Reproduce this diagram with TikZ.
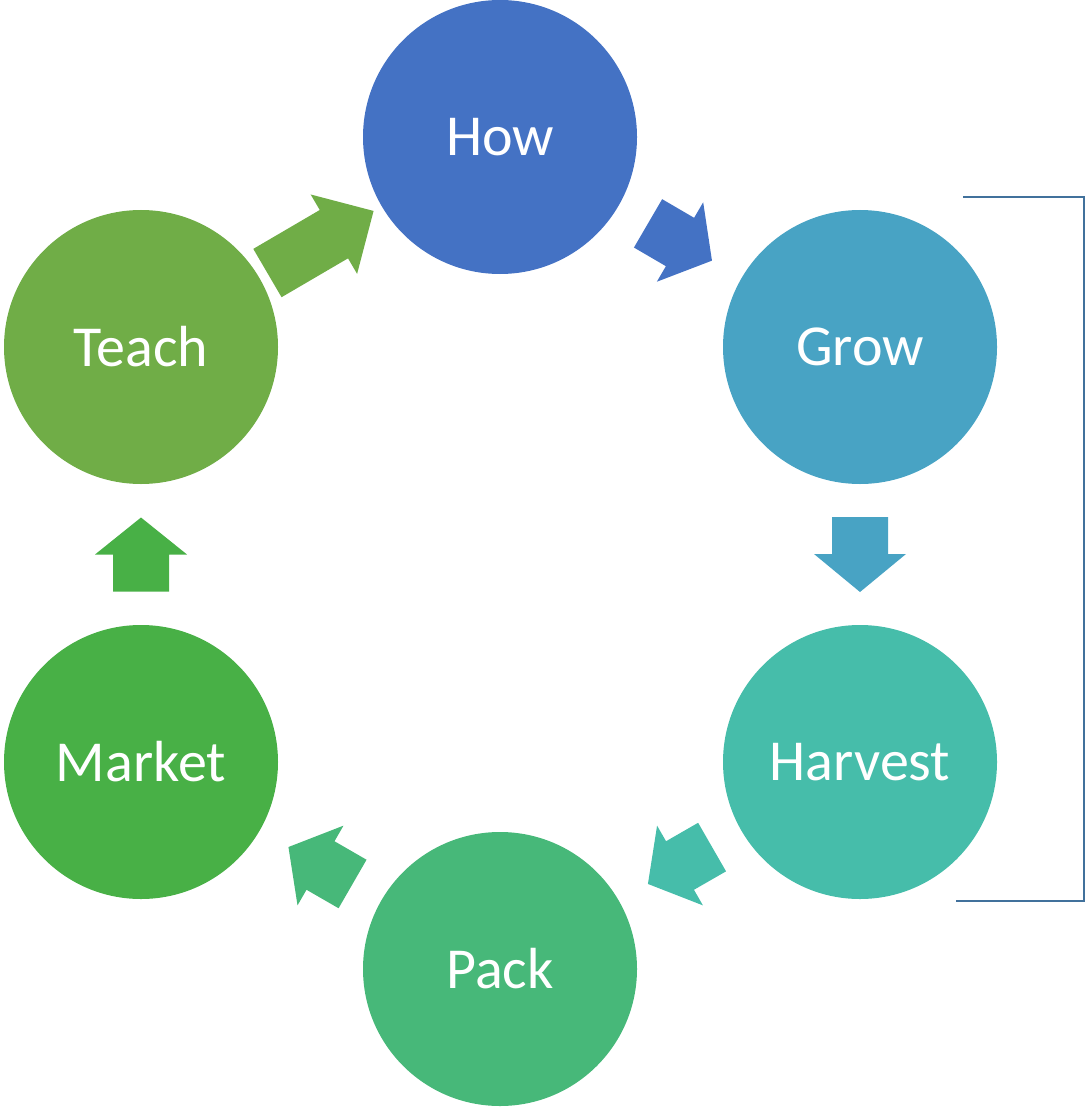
\documentclass[tikz,border=0pt]{standalone}
\usepackage{fontspec}
\setmainfont{Carlito}
\usetikzlibrary{calc}
\definecolor{howblue}{HTML}{4472C4}
\definecolor{growblue}{HTML}{48A3C4}
\definecolor{harvestteal}{HTML}{46BDAA}
\definecolor{packgreen}{HTML}{47B879}
\definecolor{marketgreen}{HTML}{48B046}
\definecolor{teachgreen}{HTML}{70AD47}
\definecolor{bracketblue}{HTML}{41719C}
\tikzset{
	stage/.style={circle, minimum size=274pt, inner sep=0pt, draw=none, fill=#1, text=white,
		font=\fontsize{58}{62}\selectfont},
}
% block arrow between two stages: from, to, colour, length, head length
\newcommand{\cyclearrow}[5]{%
	\pgfmathanglebetweenpoints{\pgfpointanchor{#1}{center}}{\pgfpointanchor{#2}{center}}%
	\let\arrowangle\pgfmathresult
	\begin{scope}[shift={($(#1)!0.5!(#2)$)}, rotate=\arrowangle]
		\fill[#3] (-#4/2,-28) -- (#4/2-#5,-28) -- (#4/2-#5,-46) -- (#4/2,0) -- (#4/2-#5,46) -- (#4/2-#5,28) -- (-#4/2,28) -- cycle;
	\end{scope}}
\begin{document}
\begin{tikzpicture}[x=1pt,y=-1pt]
			\useasboundingbox (0,0) rectangle (1086,1107);
			\node[stage=howblue] (how) at (500,137) {How};
			\node[stage=growblue] (grow) at (860,347) {Grow};
			\node[stage=harvestteal] (harvest) at (860,762) {Harvest};
			\node[stage=packgreen] (pack) at (500,969) {Pack};
			\node[stage=marketgreen] (market) at (141,762) {Market};
			\node[stage=teachgreen] (teach) at (141,347) {Teach};
			\cyclearrow{teach}{how}{teachgreen}{123}{46}
			\cyclearrow{how}{grow}{howblue}{74}{37}
			\cyclearrow{grow}{harvest}{growblue}{75}{38}
			\cyclearrow{harvest}{pack}{harvestteal}{74}{37}
			\cyclearrow{pack}{market}{packgreen}{74}{37}
			\cyclearrow{market}{teach}{marketgreen}{74}{37}
			\draw[bracketblue, line width=2pt] (963,197) -| (1084,901) -- (956,901);
\end{tikzpicture}
\end{document}
